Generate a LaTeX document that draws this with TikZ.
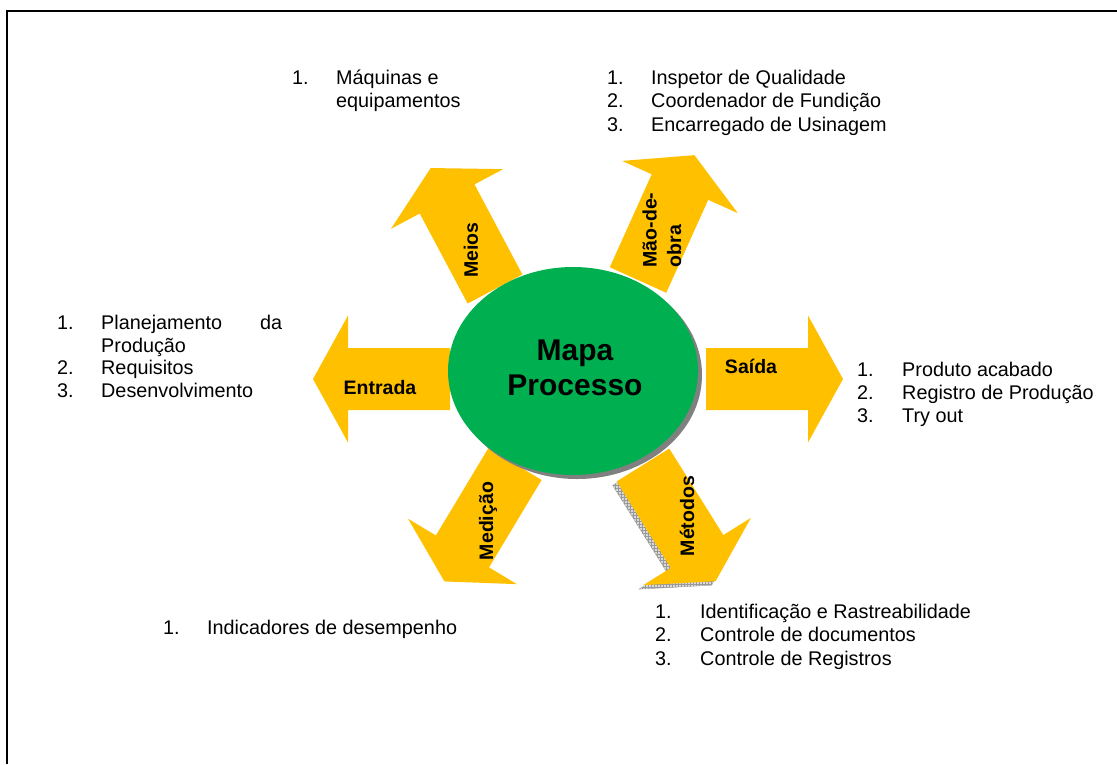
\documentclass[tikz,border=0pt]{standalone}
\usepackage{fontspec}
\setmainfont{Liberation Sans}
\usetikzlibrary{shapes.geometric,patterns}
\definecolor{arrowyellow}{HTML}{FFC000}
\definecolor{mapgreen}{HTML}{00B050}
\definecolor{shadowgray}{HTML}{808080}
\newcommand\lsttext[4]{%
  \node[txt] (#1) at (#2,#3) {#4};}
\begin{document}
\begin{tikzpicture}[x=1pt,y=-1pt,
  txt/.style={inner sep=0pt, anchor=base west, font=\fontsize{19.8}{23}\selectfont},
  lbl/.style={inner sep=0pt, font=\fontsize{19.5}{24.5}\selectfont\bfseries, align=left},
  blockarrow/.style={fill=arrowyellow, draw=none},
  arrowshadow/.style={fill=gray!30, draw=gray!70, line width=0.4pt},
  barrow/.pic={\path[blockarrow] (0,-31) -- (102,-31) -- (102,-63.5) -- (137,0) -- (102,63.5) -- (102,31) -- (0,31) -- cycle;},
  sarrow/.pic={\path[arrowshadow] (0,-31) -- (102,-31) -- (102,-63.5) -- (137,0) -- (102,63.5) -- (102,31) -- (0,31) -- cycle;
    \path[pattern=grid, pattern color=gray!80] (0,-31) -- (102,-31) -- (102,-63.5) -- (137,0) -- (102,63.5) -- (102,31) -- (0,31) -- cycle;}]
\useasboundingbox (0,0) rectangle (1117,764);
% frame
\coordinate (fbl) at (6.5,764);
\coordinate (ftl) at (6.5,11);
\coordinate (ftr) at (1117,11);
\draw[line width=2pt] (fbl) -- (ftl) -- (ftr);

% arrows
\pic[rotate=-58] at (639,469) {sarrow};
\pic at (706,379) {barrow};
\pic[rotate=180] at (450,379) {barrow};
\pic[rotate=118] at (495,289) {barrow};
\pic[rotate=65.7] at (638,280) {barrow};
\pic[rotate=-121] at (515,464) {barrow};
\pic[rotate=-58] at (643,465) {barrow};

% central ellipse
\node[ellipse, fill=shadowgray, minimum width=250pt, minimum height=208pt, inner sep=0pt] (mapashadow) at (577,375) {};
\node[ellipse, fill=mapgreen, minimum width=250pt, minimum height=208pt, inner sep=0pt] (mapa) at (573,371) {};
\node[inner sep=0pt, align=center, font=\fontsize{30}{35}\selectfont\bfseries] (mapatxt) at (575,368) {Mapa\\Processo};

% arrow labels
\node[lbl] (entrada) at (380,388) {Entrada};
\node[lbl] (saida) at (751,366) {Saída};
\node[lbl, rotate=90] (meios) at (471,250) {Meios};
\node[lbl, rotate=90] (maodeobra) at (662,230) {Mão-de-\\obra};
\node[lbl, rotate=90] (medicao) at (488,521) {Medição};
\node[lbl, rotate=90] (metodos) at (687,516) {Métodos};

% top-left list
\lsttext{mqa}{292}{84}{1.}
\lsttext{mqb}{336}{84}{Máquinas e}
\lsttext{mqc}{336}{107}{equipamentos}
% top-right list
\lsttext{mda}{607}{84}{1.}
\lsttext{mdb}{651}{84}{Inspetor de Qualidade}
\lsttext{mdc}{607}{107}{2.}
\lsttext{mdd}{651}{107}{Coordenador de Fundição}
\lsttext{mde}{607}{131}{3.}
\lsttext{mdf}{651}{131}{Encarregado de Usinagem}
% left list
\lsttext{ena}{57}{329}{1.}
\lsttext{enb}{101}{329}{\makebox[181pt][l]{Planejamento\hfill da}}
\lsttext{enc}{101}{352}{Produção}
\lsttext{end}{57}{374}{2.}
\lsttext{ene}{101}{374}{Requisitos}
\lsttext{enf}{57}{397}{3.}
\lsttext{eng}{101}{397}{Desenvolvimento}
% right list
\lsttext{saa}{857}{376}{1.}
\lsttext{sab}{902}{376}{Produto acabado}
\lsttext{sac}{857}{399}{2.}
\lsttext{sad}{902}{399}{Registro de Produção}
\lsttext{sae}{857}{422}{3.}
\lsttext{saf}{902}{422}{Try out}
% bottom-left list
\lsttext{mea}{163}{634}{1.}
\lsttext{meb}{207}{634}{Indicadores de desempenho}
% bottom-right list
\lsttext{mta}{655}{618}{1.}
\lsttext{mtb}{700}{618}{Identificação e Rastreabilidade}
\lsttext{mtc}{655}{641}{2.}
\lsttext{mtd}{700}{641}{Controle de documentos}
\lsttext{mte}{655}{665}{3.}
\lsttext{mtf}{700}{665}{Controle de Registros}
\end{tikzpicture}
\end{document}
